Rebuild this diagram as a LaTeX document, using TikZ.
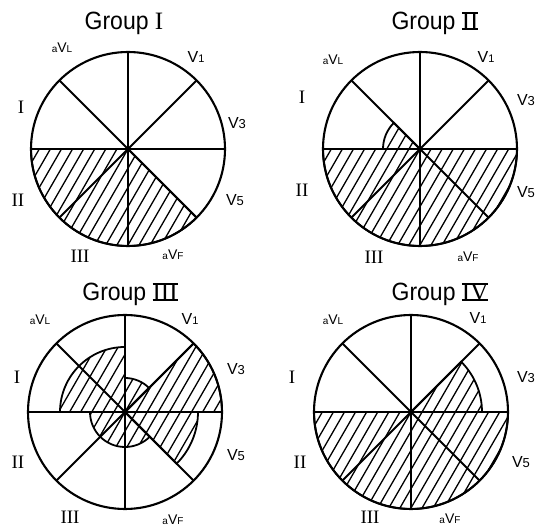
\documentclass[tikz,border=0pt]{standalone}
\usepackage{fontspec}
\setmainfont{Liberation Serif}
\setsansfont{Liberation Sans}
\newfontfamily\titlefont[FakeStretch=0.92]{Liberation Sans}
\newcommand{\barred}[1]{\setbox0=\hbox{#1}\rlap{\rule[-0.4pt]{\wd0}{1.4pt}}\rlap{\rule[\dimexpr\ht0-1pt\relax]{\wd0}{1.4pt}}\box0}
\newcommand{\smsz}{\fontsize{10}{10}\selectfont}
\newcommand{\mdsz}{\fontsize{13}{13}\selectfont}
\newcommand{\bgsz}{\fontsize{16}{16}\selectfont}
\newcommand{\leadaVL}{{\smsz a}{\fontsize{14}{14}\selectfont V}{\smsz L}}
\newcommand{\leadaVF}{{\smsz a}{\fontsize{14}{14}\selectfont V}{\smsz F}}
\newcommand{\leadVone}{{\bgsz V}{\fontsize{11}{11}\selectfont 1}}
\newcommand{\leadVthree}{{\bgsz V}{\mdsz 3}}
\newcommand{\leadVfive}{{\bgsz V}{\mdsz 5}}
\tikzset{
  rim/.style={line width=2.1pt},
  spoke/.style={line width=1.8pt},
  hatchline/.style={line width=1.3pt},
  part/.style={line width=1.8pt},
  lead/.style={font=\sffamily, inner sep=0pt},
  roman/.style={font=\fontsize{19}{19}\selectfont\rmfamily, inner sep=0pt},
  ttl/.style={font=\fontsize{25}{25}\selectfont\titlefont, inner sep=0pt}
}
% start angle, end angle, radius
\newcommand{\hatchsector}[3]{%
  \begin{scope}
    \clip (0,0) -- (#1:#3) arc[start angle=#1, end angle=#2, radius=#3] -- cycle;
    \begin{scope}[rotate=60]
      \foreach \k in {-11,...,11} \draw[hatchline] (-110,\k*9.6) -- (110,\k*9.6);
    \end{scope}
  \end{scope}
  \draw[part] (0,0) -- (#1:#3) arc[start angle=#1, end angle=#2, radius=#3] -- cycle;
}
\newcommand{\dialframe}[1]{%
  \draw[rim] (0,0) circle[radius=#1];
  \foreach \a in {0,45,...,315} \draw[spoke] (0,0) -- (\a:#1);
}
\begin{document}
\begin{tikzpicture}[x=1pt,y=1pt]
\useasboundingbox (0,0) rectangle (536,528);
\fill[white] (0,0) rectangle (536,528);

% ---------- Group I ----------
\begin{scope}[shift={(128,379)}]
  \coordinate (c1) at (0,0);
  \hatchsector{180}{315}{97}
  \dialframe{97}
\end{scope}
\node[ttl] (t1) at (124,505) {Group {\rmfamily I}};
\node[lead] (g1avl) at (62,480) {\leadaVL};
\node[lead] (g1v1) at (196,471) {\leadVone};
\node[lead] (g1v3) at (237,405) {\leadVthree};
\node[lead] (g1v5) at (235,328) {\leadVfive};
\node[lead] (g1avf) at (173,273) {\leadaVF};
\node[roman] (g1iii) at (80,272) {III};
\node[roman] (g1ii) at (18,328) {II};
\node[roman] (g1i) at (21,421) {I};

% ---------- Group II ----------
\begin{scope}[shift={(420,379)}]
  \coordinate (c2) at (0,0);
  \hatchsector{180}{360}{97}
  \hatchsector{135}{180}{37}
  \dialframe{97}
\end{scope}
\node[ttl] (t2) at (435,505) {Group {\rmfamily\barred{II}}};
\node[lead] (g2avl) at (333,468) {\leadaVL};
\node[lead] (g2v1) at (486,471) {\leadVone};
\node[lead] (g2v3) at (526,428) {\leadVthree};
\node[lead] (g2v5) at (526,336) {\leadVfive};
\node[lead] (g2avf) at (468,271) {\leadaVF};
\node[roman] (g2iii) at (374,271) {III};
\node[roman] (g2ii) at (302,338) {II};
\node[roman] (g2i) at (302,431) {I};

% ---------- Group III ----------
\begin{scope}[shift={(125,116)}]
  \coordinate (c3) at (0,0);
  \hatchsector{90}{180}{65}
  \hatchsector{0}{45}{97}
  \hatchsector{45}{90}{34}
  \hatchsector{-45}{0}{73}
  \hatchsector{180}{315}{35}
  \dialframe{97}
\end{scope}
\node[ttl] (t3) at (130,234) {Group {\rmfamily\barred{III}}};
\node[lead] (g3avl) at (40,208) {\leadaVL};
\node[lead] (g3v1) at (190,209) {\leadVone};
\node[lead] (g3v3) at (236,159) {\leadVthree};
\node[lead] (g3v5) at (236,73) {\leadVfive};
\node[lead] (g3avf) at (173,8) {\leadaVF};
\node[roman] (g3iii) at (70,11) {III};
\node[roman] (g3ii) at (18,66) {II};
\node[roman] (g3i) at (17,151) {I};

% ---------- Group IV ----------
\begin{scope}[shift={(411,116)}]
  \coordinate (c4) at (0,0);
  \hatchsector{180}{360}{97}
  \hatchsector{0}{45}{71}
  \dialframe{97}
\end{scope}
\node[ttl] (t4) at (440,234) {Group {\rmfamily\barred{IV}}};
\node[lead] (g4avl) at (333,208) {\leadaVL};
\node[lead] (g4v1) at (478,210) {\leadVone};
\node[lead] (g4v3) at (526,151) {\leadVthree};
\node[lead] (g4v5) at (521,66) {\leadVfive};
\node[lead] (g4avf) at (450,9) {\leadaVF};
\node[roman] (g4iii) at (370,11) {III};
\node[roman] (g4ii) at (300,66) {II};
\node[roman] (g4i) at (292,151) {I};
\end{tikzpicture}
\end{document}
